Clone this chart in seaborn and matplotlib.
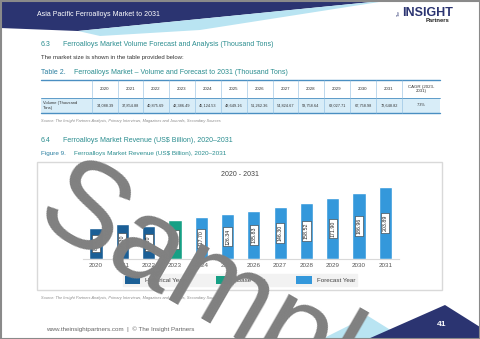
import matplotlib
matplotlib.use('Agg')
import matplotlib.pyplot as plt
from matplotlib.patches import Polygon, Rectangle, Patch
import pandas as pd
import seaborn as sns

# chart data
years = ['2020', '2021', '2022', '2023', '2024', '2025', '2026', '2027', '2028', '2029', '2030', '2031']
revenue = [87.40, 98.30, 93.30, 109.90, 117.70, 126.34, 135.83, 146.30, 158.52, 171.90, 186.96, 203.89]
period = ['Historical Year', 'Historical Year', 'Historical Year', 'Base Year',
          'Forecast Year', 'Forecast Year', 'Forecast Year', 'Forecast Year',
          'Forecast Year', 'Forecast Year', 'Forecast Year', 'Forecast Year']
period_order = ['Historical Year', 'Base Year', 'Forecast Year']
period_colors = ['#1b5f96', '#16a085', '#3498db']

# table data
table_head = years + ['CAGR (2023-\n2031)']
table_row_name = 'Volume (Thousand\nTons)'
table_values = ['34,088.39', '37,854.88', '40,875.69', '42,386.49', '45,124.53', '48,649.16',
                '51,262.36', '54,824.67', '58,758.64', '63,027.71', '67,758.98', '72,648.82', '7.3%']

df = pd.DataFrame({'Year': years, 'Revenue': revenue, 'Period': period})

sns.set_theme(style='white')
plt.rcParams['font.family'] = ['Liberation Sans', 'DejaVu Sans']

W, H = 480, 339
fig = plt.figure(figsize=(W / 100, H / 100), dpi=100)
fig.patch.set_facecolor('white')

# --- page decoration, pixel coords
page = fig.add_axes([0, 0, 1, 1])
page.set_xlim(0, W)
page.set_ylim(H, 0)
page.axis('off')

navy = '#2b3471'
teal = '#2a8d8f'
page.add_patch(Polygon([(0, 0), (392, 0), (78, 31), (0, 28)], closed=True, fc=navy, ec='none'))
page.add_patch(Polygon([(78, 31), (392, 0), (200, 30), (100, 36)], closed=True, fc='#b9e4f2', ec='none'))
page.text(37, 15, 'Asia Pacific Ferroalloys Market to 2031', color='white', fontsize=5, va='center')
page.text(402, 13, 'INSIGHT', color=navy, fontsize=9, fontweight='bold', va='center')
page.text(399, 13, 'The', color=navy, fontsize=2.5, rotation=90, va='center', ha='center')
page.text(426, 21, 'Partners', color='#222', fontsize=4.2, fontweight='bold', va='center')

page.text(41, 44, '6.3', color=teal, fontsize=5, va='center')
page.text(63, 44, 'Ferroalloys Market Volume Forecast and Analysis (Thousand Tons)', color=teal, fontsize=5, va='center')
page.text(41, 57, 'The market size is shown in the table provided below:', color='#333', fontsize=4.3, va='center')
page.text(41, 72, 'Table 2.', color='#2a7fa0', fontsize=5, va='center')
page.text(74, 72, 'Ferroalloys Market \u2013 Volume and Forecast to 2031 (Thousand Tons)', color=teal, fontsize=5, va='center')

# table
col_edges = [41, 92, 118, 143, 169, 195, 221, 247, 273, 298, 324, 350, 376, 402, 440]
page.add_patch(Rectangle((41, 98), 399, 15, fc='#d8edf8', ec='none'))
page.plot([41, 440], [80, 80], color='#4a8fc2', lw=1.0)
page.plot([41, 440], [98, 98], color='#4a8fc2', lw=0.6)
page.plot([41, 440], [113, 113], color='#4a8fc2', lw=1.0)
for xe in col_edges[1:-1]:
    page.plot([xe, xe], [80, 113], color='#8cbbe0', lw=0.4)
for i, txt in enumerate(table_head):
    cx = (col_edges[i + 1] + col_edges[i + 2]) / 2
    page.text(cx, 89, txt, fontsize=3.2, ha='center', va='center', color='#333', linespacing=1.3)
    page.text(cx, 105.5, table_values[i], fontsize=2.8, ha='center', va='center', color='#333')
page.text(43, 105.5, table_row_name, fontsize=3.0, ha='left', va='center', color='#333', linespacing=1.3)

src = 'Source: The Insight Partners Analysis, Primary Interviews, Magazines and Journals, Secondary Sources'
page.text(41, 121, src, fontsize=2.8, style='italic', color='#888', va='center')

page.text(41, 140, '6.4', color=teal, fontsize=5, va='center')
page.text(63, 140, 'Ferroalloys Market Revenue (US$ Billion), 2020\u20132031', color=teal, fontsize=5, va='center')
page.text(41, 154, 'Figure 9.', color='#2a7fa0', fontsize=4.6, va='center')
page.text(74, 154, 'Ferroalloys Market Revenue (US$ Billion), 2020\u20132031', color=teal, fontsize=4.6, va='center')

page.add_patch(Rectangle((37, 162), 405, 128, fc='white', ec='#d9d9d9', lw=1.0))
page.text(240, 175, '2020 - 2031', fontsize=5, ha='center', va='center', color='#444')
page.text(41, 298, src, fontsize=2.8, style='italic', color='#888', va='center')

page.add_patch(Polygon([(322, 339), (368, 316), (405, 339)], closed=True, fc='#b9e4f2', ec='none'))
page.add_patch(Polygon([(368, 339), (445, 305), (480, 327), (480, 339)], closed=True, fc=navy, ec='none'))
page.text(442, 325, '41', color='white', fontsize=6, fontweight='bold', ha='center', va='center')
page.text(46, 329, 'www.theinsightpartners.com  |  \u00a9 The Insight Partners', color='#666', fontsize=4.5, va='center')
page.add_patch(Rectangle((0.5, 0.5), W - 1, H - 1, fc='none', ec='#8a8a8a', lw=1.5))

# --- the chart
ax = fig.add_axes([82.9 / W, 1 - 259 / H, 315.6 / W, 79 / H])
sns.barplot(data=df, x='Year', y='Revenue', hue='Period', hue_order=period_order,
            palette=period_colors, dodge=False, width=0.5, saturation=1,
            legend=False, ax=ax)
ax.set_ylim(0, 223)
ax.set_xlim(-0.5, 11.5)
ax.patch.set_alpha(0)
for s in ['top', 'right', 'left']:
    ax.spines[s].set_visible(False)
ax.spines['bottom'].set_color('#d9d9d9')
ax.spines['bottom'].set_linewidth(0.8)
ax.set_yticks([])
ax.set_xlabel('')
ax.set_ylabel('')
ax.tick_params(axis='x', length=0, pad=3, labelsize=4.5, labelcolor='#555')

for c in ax.containers:
    ax.bar_label(c, fmt='%.2f', label_type='center', rotation=90, fontsize=3.8, color='#222',
                 bbox=dict(boxstyle='square,pad=0.3', fc='white', ec='#333', lw=0.4))

handles = [Patch(fc=col, ec='none') for col in period_colors]
ax.legend(handles, period_order, ncol=3, loc='center', bbox_to_anchor=(0.5, 1 - 280 / H),
          bbox_transform=fig.transFigure, fontsize=4.5, frameon=True, facecolor='#f2f2f2',
          edgecolor='#f2f2f2', framealpha=1, fancybox=False, handlelength=2.5, handleheight=1.7,
          columnspacing=5, borderpad=0.25, labelcolor='#444')

# watermark on top of everything
fig.text(31, 223, 'Sample', fontsize=88, color='#808080', rotation=-30, ha='left', va='baseline',
         rotation_mode='anchor', transform=page.transData, zorder=20)

fig.savefig('out.png', dpi=100)
